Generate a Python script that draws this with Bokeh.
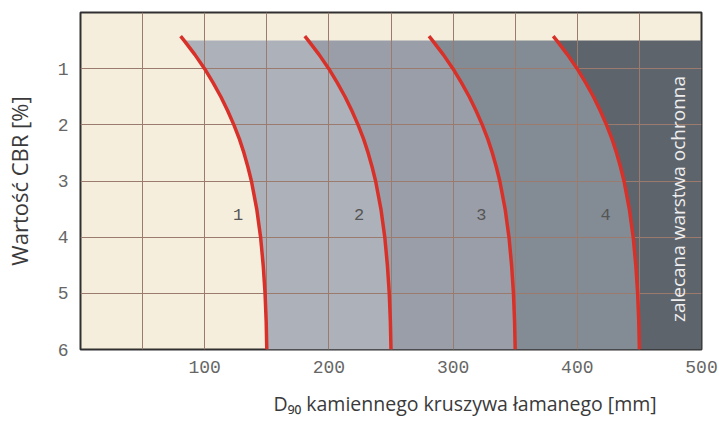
from bokeh.plotting import figure
from bokeh.models import Range1d, FixedTicker, Label, Title
from bokeh.embed import file_html
from bokeh.resources import INLINE
from bokeh.core.properties import value

# CBR levels (y) at which the curve positions were read
cbr = [0.42, 0.5, 0.75, 1.0, 1.25, 1.5, 1.75, 2.0, 2.25, 2.5, 2.75, 3.0, 3.5, 4.0, 4.5, 5.0, 5.5, 6.0]
# D90 positions of the four boundary curves [mm]
curve1 = [80.6, 83.5, 92.1, 99.9, 106.7, 113.0, 118.5, 123.5, 127.9, 131.6, 134.8, 137.6, 141.9, 145.0, 147.1, 148.6, 149.5, 150.0]
curve2 = [180.6, 183.5, 192.1, 199.9, 206.7, 213.0, 218.5, 223.5, 227.9, 231.6, 234.8, 237.6, 241.9, 245.0, 247.1, 248.6, 249.5, 250.0]
curve3 = [280.6, 283.5, 292.1, 299.9, 306.7, 313.0, 318.5, 323.5, 327.9, 331.6, 334.8, 337.6, 341.9, 345.0, 347.1, 348.6, 349.5, 350.0]
curve4 = [380.6, 383.5, 392.1, 399.9, 406.7, 413.0, 418.5, 423.5, 427.9, 431.6, 434.8, 437.6, 441.9, 445.0, 447.1, 448.6, 449.5, 450.0]
band_top = 0.5
x_max = 500

zone_labels = ["1", "2", "3", "4"]
zone_label_x = [126.8, 224.4, 322.8, 422.8]
zone_label_y = 3.59

x_ticks = [100, 200, 300, 400, 500]
y_ticks = [1, 2, 3, 4, 5, 6]
x_grid = [50, 100, 150, 200, 250, 300, 350, 400, 450]
y_grid = [1, 2, 3, 4, 5]

band_colors = ["#adb1ba", "#9a9ea8", "#838c94", "#5e646b"]

p = figure(width=719, height=432, output_backend="svg", toolbar_location=None,
           x_range=Range1d(0, 500), y_range=Range1d(6, 0),
           min_border_left=79, min_border_right=18, min_border_top=12, min_border_bottom=82)
p.background_fill_color = "#f6eedd"
p.border_fill_color = "white"
p.outline_line_color = "#303030"
p.outline_line_width = 2

# grid
p.xgrid.ticker = FixedTicker(ticks=x_grid)
p.ygrid.ticker = FixedTicker(ticks=y_grid)
for g in (p.xgrid, p.ygrid):
    g.grid_line_color = "#9b7b6e"
    g.grid_line_width = 1
    g.level = "underlay"

# axes
p.xaxis.ticker = FixedTicker(ticks=x_ticks)
p.yaxis.ticker = FixedTicker(ticks=y_ticks)
for ax in (p.xaxis, p.yaxis):
    ax.axis_line_color = None
    ax.major_tick_line_color = None
    ax.minor_tick_line_color = None
    ax.major_tick_in = 0
    ax.major_tick_out = 0
    ax.major_label_text_font = "Liberation Mono"
    ax.major_label_text_color = "#666666"
    ax.major_label_text_font_size = "18px"
p.xaxis.major_label_standoff = 11
p.yaxis.major_label_standoff = 12
p.yaxis.axis_label = "Wartość CBR [%]"
p.yaxis.axis_label_text_font = "Open Sans"
p.yaxis.axis_label_text_font_style = "normal"
p.yaxis.axis_label_text_font_size = "22px"
p.yaxis.axis_label_text_color = "#3a3a3a"
p.yaxis.axis_label_standoff = 21

# bands
curves = [curve1, curve2, curve3, curve4]
idx = [i for i, v in enumerate(cbr) if v >= band_top]
ys = [cbr[i] for i in idx]
for k in range(4):
    left = [curves[k][i] for i in idx]
    if k < 3:
        right = [curves[k + 1][i] for i in idx]
    else:
        right = [x_max for _ in idx]
    px = left + right[::-1]
    py = ys + ys[::-1]
    r = p.patch(px, py, fill_color=band_colors[k], line_color=None)
    r.level = "image"

# curves
for c in curves:
    p.line(c, cbr, line_color="#d8312a", line_width=3.5, line_join="round")

# zone labels
p.text(x=zone_label_x, y=[zone_label_y] * 4, text=zone_labels,
       text_font=value("Liberation Mono"), text_font_size="17px",
       text_color="#555555", text_align="center", text_baseline="middle")

# vertical label
p.add_layout(Label(x=481, y=3.32, text="zalecana warstwa ochronna", angle=1.5708,
                   text_font="Open Sans", text_font_size="19px", text_color="#eeeeee",
                   text_align="center", text_baseline="middle"))

# x axis title
p.add_layout(Title(text="D₉₀ kamiennego kruszywa łamanego [mm]", align="left", offset=193,
                   text_font="Open Sans", text_font_size="19.5px", text_font_style="normal",
                   text_color="#3a3a3a", standoff=28, vertical_align="top"), "below")

open("out.html", "w").write(file_html(p, INLINE))
